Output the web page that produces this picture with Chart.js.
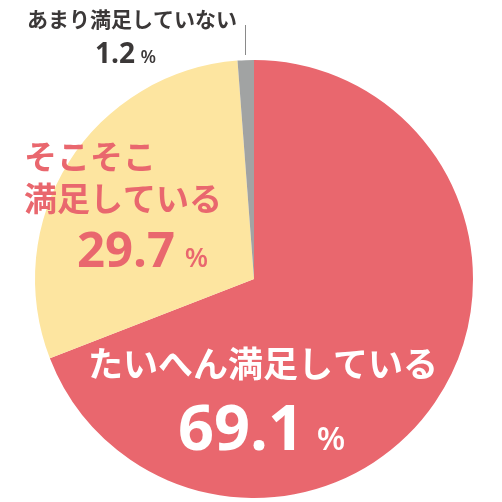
<!DOCTYPE html>
<html lang="ja">
<head>
<meta charset="utf-8">
<script src="https://cdn.jsdelivr.net/npm/chart.js@4/dist/chart.umd.min.js"></script>
<style>
  html, body { margin: 0; padding: 0; background: #fff; }
  canvas { display: block; }
</style>
</head>
<body>
<canvas id="chart" width="502" height="502"></canvas>
<script>
// 満足度の円グラフ
const categories = ['たいへん満足している', 'そこそこ満足している', 'あまり満足していない'];
const values     = [69.1, 29.7, 1.2];
const colors     = ['#E9676E', '#FDE5A0', '#A1A3A3'];

const FONT = '"Noto Sans CJK JP", "Noto Sans", sans-serif';
const NUM_FONT = '"Open Sans", "Noto Sans", sans-serif';

// 数字 + 小さい「%」を描く
function drawPercent(ctx, value, x, y, size, pctSize, color) {
  const txt = value.toFixed(1);
  ctx.fillStyle = color;
  ctx.textAlign = 'left';
  ctx.textBaseline = 'alphabetic';
  ctx.font = `bold ${size}px ${NUM_FONT}`;
  ctx.fillText(txt, x, y);
  const w = ctx.measureText(txt).width;
  ctx.font = `600 ${pctSize}px ${NUM_FONT}`;
  ctx.fillText('%', x + w + size * 0.2, y);
}

const labelPlugin = {
  id: 'labels',
  afterDraw(chart) {
    const ctx = chart.ctx;
    ctx.save();

    // あまり満足していない（外側ラベル + 引き出し線）
    ctx.strokeStyle = '#8a8a8a';
    ctx.lineWidth = 1;
    ctx.beginPath();
    ctx.moveTo(245.5, 25);
    ctx.lineTo(245.5, 55);
    ctx.stroke();

    ctx.fillStyle = '#3b3838';
    ctx.font = `bold 21px ${FONT}`;
    ctx.textAlign = 'center';
    ctx.textBaseline = 'middle';
    ctx.fillText(categories[2], 132, 19);
    drawPercent(ctx, values[2], 95, 63, 28, 18, '#3b3838');

    // そこそこ満足している
    ctx.fillStyle = colors[0];
    ctx.font = `bold 33px ${FONT}`;
    ctx.textAlign = 'left';
    ctx.textBaseline = 'middle';
    ctx.fillText('そこそこ', 24, 156);
    ctx.fillText('満足している', 24, 198);
    drawPercent(ctx, values[1], 77, 267, 49, 27, colors[0]);

    // たいへん満足している
    ctx.fillStyle = '#fff';
    ctx.font = `bold 35px ${FONT}`;
    ctx.textAlign = 'center';
    ctx.textBaseline = 'middle';
    ctx.fillText(categories[0], 263, 364);
    drawPercent(ctx, values[0], 178, 450, 63, 33, '#fff');

    ctx.restore();
  }
};

new Chart(document.getElementById('chart'), {
  type: 'pie',
  data: {
    labels: categories,
    datasets: [{
      data: values,
      backgroundColor: colors,
      borderWidth: 0
    }]
  },
  options: {
    responsive: false,
    animation: false,
    devicePixelRatio: 1,
    layout: { padding: { left: 35, right: 29, top: 60, bottom: 4 } },
    plugins: {
      legend: { display: false },
      tooltip: { enabled: false }
    }
  },
  plugins: [labelPlugin]
});
</script>
</body>
</html>
